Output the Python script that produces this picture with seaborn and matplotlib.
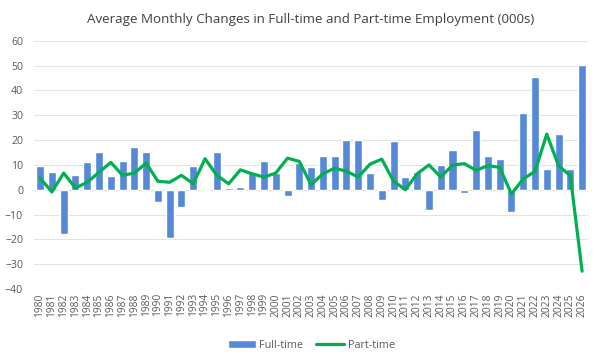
import pandas as pd
import numpy as np
import matplotlib.pyplot as plt
import seaborn as sns

years = [str(y) for y in range(1980, 2027)]

full_time = [9.5, 7, -18, 6, 11, 15, 5.5, 11.5, 17, 15,
             -5, -19.5, -7, 9.5, 0, 15.1, 0.5, 1, 6.7, 11.7,
             6.7, -2.4, 10.7, 9.1, 13.4, 13.4, 20.1, 20, 6.7, -4,
             19.8, 5.1, 7.2, -8, 10, 16, -1.3, 23.9, 13.7, 12.5,
             -8.8, 31, 45.4, 8.4, 22.3, 8.2, 50.4]

part_time = [4.7, -0.9, 6.7, 0.7, 3, 7, 11, 5.8, 6.7, 10.7,
             3.4, 3, 5.8, 2.4, 12.5, 5.8, 2.4, 8, 6.4, 5.1,
             6.7, 12.7, 11.4, 2, 6.4, 8.7, 7.4, 5.1, 10.3, 12.3,
             3.4, 0, 6.4, 10, 5.1, 9.9, 10.5, 7.8, 9.7, 9,
             -1.7, 4.3, 7.4, 22.4, 9.7, 5.6, -32.8]

df = pd.DataFrame({'year': years, 'Full-time': full_time, 'Part-time': part_time})
df['pos'] = np.arange(len(df))

sns.set_style('white')
plt.rcParams['font.family'] = ['Open Sans', 'DejaVu Sans']

fig = plt.figure(figsize=(6, 3.6), dpi=100)
ax = fig.add_axes([0.057, 0.197, 0.923, 0.69])

# gridlines
ax.set_ylim(-40, 60)
ax.set_yticks(range(-40, 61, 10))
ax.yaxis.grid(True, color='#e3e3e3', linewidth=0.8)
ax.set_axisbelow(True)

sns.barplot(data=df, x='year', y='Full-time', color='#5588d6', saturation=1,
            width=0.68, ax=ax, label='Full-time')
sns.lineplot(data=df, x='pos', y='Part-time', color='#00b04f', linewidth=2.3,
             ax=ax, label='Part-time')

ax.set_xlim(-0.5, len(df) - 0.5)
ax.set_xticks(df['pos'])
ax.set_xticklabels(df['year'], rotation=90)
ax.set_xlabel('')
ax.set_ylabel('')
ax.tick_params(axis='x', labelsize=7.4, colors='#595959', length=0, pad=3)
ax.tick_params(axis='y', labelsize=7.6, colors='#595959', length=0, pad=8)
for s in ax.spines.values():
    s.set_visible(False)

ax.set_title('Average Monthly Changes in Full-time and Part-time Employment (000s)',
             fontsize=9.6, color='#404040', pad=13)

handles, labels = ax.get_legend_handles_labels()
order = [labels.index('Full-time'), labels.index('Part-time')]
ax.legend([handles[i] for i in order], [labels[i] for i in order],
          loc='upper center', bbox_to_anchor=(0.5, -0.165), ncol=2, frameon=False,
          fontsize=7.8, labelcolor='#595959', handlelength=2.6, columnspacing=1.2,
          handletextpad=0.3)

plt.savefig('out.png', dpi=100)
